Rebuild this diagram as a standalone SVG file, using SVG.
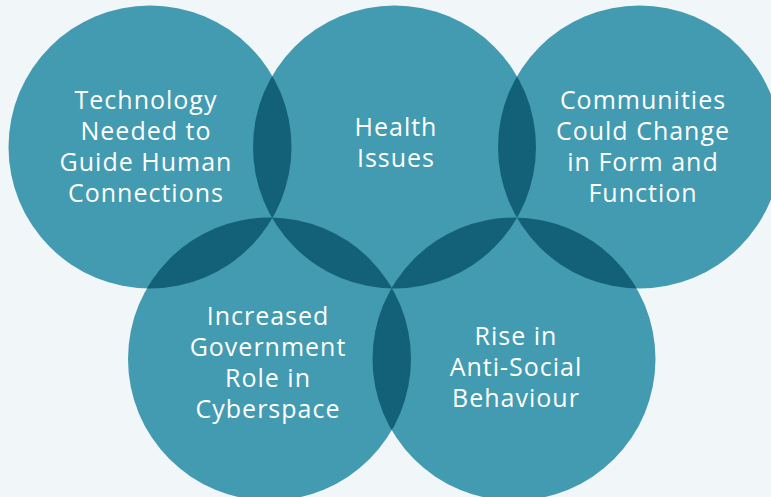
<svg xmlns="http://www.w3.org/2000/svg" width="771" height="497" viewBox="0 0 771 497">
<style>
.c{fill:#429bb0}
.o{fill:#136179}
.t{fill:#ffffff;font-family:"Open Sans",Lato,sans-serif;font-size:25px;letter-spacing:1px;text-anchor:middle}
</style>
<defs>
<clipPath id="kTL"><circle cx="150" cy="147" r="141.5"/></clipPath>
<clipPath id="kTM"><circle cx="394.5" cy="147" r="141.5"/></clipPath>
<clipPath id="kTR"><circle cx="639.5" cy="147" r="141.5"/></clipPath>
<clipPath id="kBL"><circle cx="269.5" cy="359" r="141.5"/></clipPath>
</defs>
<rect width="771" height="497" fill="#f1f6f9"/>
<g id="node-technology">
<circle class="c" cx="150" cy="147" r="141.5"/>
<text class="t"><tspan x="146" y="109">Technology</tspan><tspan x="146" y="140">Needed to</tspan><tspan x="146" y="171">Guide Human</tspan><tspan x="146" y="202">Connections</tspan></text>
</g>
<g id="node-health">
<circle class="c" cx="394.5" cy="147" r="141.5"/>
<text class="t"><tspan x="396" y="136">Health</tspan><tspan x="396" y="167">Issues</tspan></text>
</g>
<g id="node-communities">
<circle class="c" cx="639.5" cy="147" r="141.5"/>
<text class="t"><tspan x="643" y="109">Communities</tspan><tspan x="643" y="140">Could Change</tspan><tspan x="643" y="171">in Form and</tspan><tspan x="643" y="202">Function</tspan></text>
</g>
<g id="node-government">
<circle class="c" cx="269.5" cy="359" r="141.5"/>
<text class="t"><tspan x="268" y="325">Increased</tspan><tspan x="268" y="356">Government</tspan><tspan x="268" y="387">Role in</tspan><tspan x="268" y="418">Cyberspace</tspan></text>
</g>
<g id="node-antisocial">
<circle class="c" cx="514" cy="359" r="141.5"/>
<text class="t"><tspan x="516" y="345">Rise in</tspan><tspan x="516" y="376">Anti-Social</tspan><tspan x="516" y="407">Behaviour</tspan></text>
</g>
<g id="connectors">
<circle class="o" cx="394.5" cy="147" r="141.5" clip-path="url(#kTL)"/>
<circle class="o" cx="639.5" cy="147" r="141.5" clip-path="url(#kTM)"/>
<circle class="o" cx="269.5" cy="359" r="141.5" clip-path="url(#kTL)"/>
<circle class="o" cx="269.5" cy="359" r="141.5" clip-path="url(#kTM)"/>
<circle class="o" cx="514" cy="359" r="141.5" clip-path="url(#kTM)"/>
<circle class="o" cx="514" cy="359" r="141.5" clip-path="url(#kBL)"/>
<circle class="o" cx="514" cy="359" r="141.5" clip-path="url(#kTR)"/>
</g>
</svg>
